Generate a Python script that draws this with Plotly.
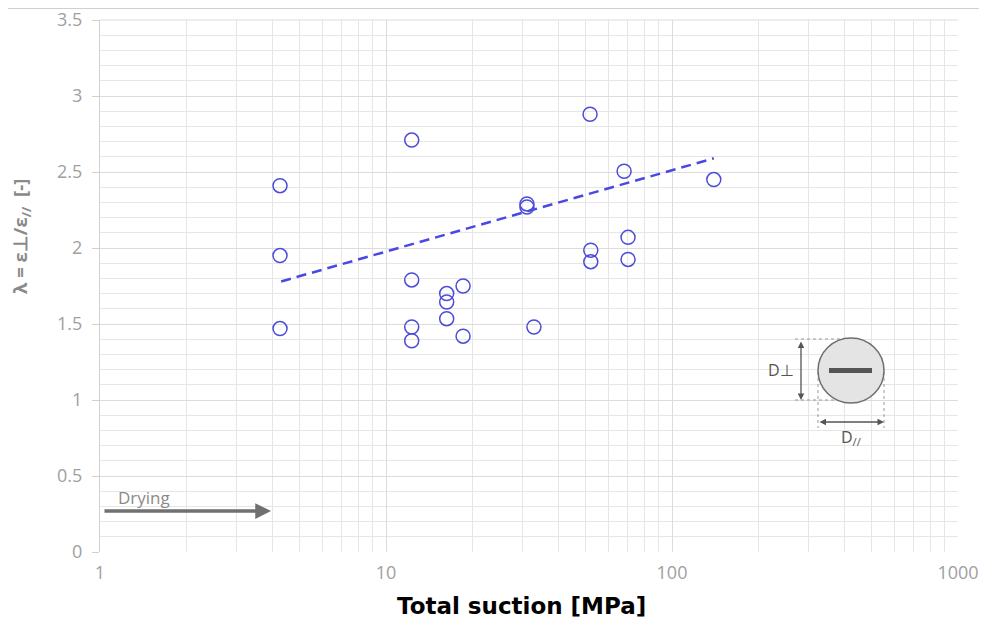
import plotly.graph_objects as go

# Data
suction = [4.26, 4.26, 4.26, 12.3, 12.3, 12.3, 12.3, 16.3, 16.3, 16.3, 18.6, 18.6,
           31.1, 31.1, 32.9, 51.7, 52.0, 52.0, 68.0, 70.2, 70.2, 140.0]
lam = [2.41, 1.95, 1.47, 2.71, 1.79, 1.48, 1.39, 1.70, 1.645, 1.535, 1.75, 1.42,
       2.29, 2.27, 1.48, 2.88, 1.985, 1.91, 2.505, 2.07, 1.925, 2.45]

trend_x = [4.3, 140.0]
trend_y = [1.78, 2.59]

y_ticks = [0, 0.5, 1, 1.5, 2, 2.5, 3, 3.5]
y_tick_labels = ["0", "0.5", "1", "1.5", "2", "2.5", "3", "3.5"]
x_ticks = [1, 10, 100, 1000]
x_tick_labels = ["1", "10", "100", "1000"]

# page has an 8px body margin; figure geometry compensates for it
W, H = 979, 614
L, R, T, B = 92, 29, 12, 70
PW, PH = W - L - R, H - T - B
PAGE_L, PAGE_B = 100, 552  # plot-area left / bottom in page pixels


def px(xp):
    return (xp - PAGE_L) / PW


def py(yp):
    return (PAGE_B - yp) / PH


fig = go.Figure()

fig.add_trace(go.Scatter(
    x=trend_x, y=trend_y, mode="lines",
    line=dict(color="#4848e2", width=2.5, dash="10px,6px"),
    hoverinfo="skip", showlegend=False))

fig.add_trace(go.Scatter(
    x=suction, y=lam, mode="markers",
    marker=dict(symbol="circle-open", size=14, color="#4c4cd8",
                line=dict(width=1.5, color="#4c4cd8")),
    showlegend=False))

grid = "#dcdcdc"
tickfont = dict(family="Open Sans", size=18, color="#a0a0a0")
fig.update_xaxes(
    type="log", range=[0, 3], automargin=False,
    tickvals=x_ticks, ticktext=x_tick_labels,
    showgrid=True, gridcolor=grid, gridwidth=1,
    minor=dict(showgrid=True, gridcolor="#e6e6e6", dtick="D1", ticks=""),
    zeroline=False, showline=False, ticks="", ticklabelstandoff=8,
    ticklabeloverflow="allow",
    tickfont=tickfont,
)
fig.update_yaxes(
    range=[0, 3.5], automargin=False,
    tickvals=y_ticks, ticktext=y_tick_labels,
    showgrid=True, gridcolor=grid, gridwidth=1,
    minor=dict(showgrid=True, gridcolor="#e6e6e6", dtick=0.1, ticks=""),
    zeroline=False, showline=True, linecolor="#d0d0d0", linewidth=1,
    ticks="outside", ticklen=7, tickcolor="#d0d0d0", ticklabelstandoff=6,
    ticklabeloverflow="allow",
    tickfont=tickfont,
)

shapes = []
# top frame line
shapes.append(dict(type="line", xref="paper", yref="paper",
                   x0=px(0), x1=px(995), y0=1 + (T - 0.5) / PH, y1=1 + (T - 0.5) / PH,
                   line=dict(color="#d0d0d0", width=1)))
# top border of plot area (3.5 gridline)
shapes.append(dict(type="line", xref="paper", yref="paper",
                   x0=0, x1=1, y0=1, y1=1,
                   line=dict(color=grid, width=1), layer="below"))
# white box behind "Drying"
shapes.append(dict(type="rect", xref="paper", yref="paper",
                   x0=px(101), x1=px(215), y0=py(516), y1=py(480),
                   fillcolor="white", line=dict(width=0), layer="below"))
# inset: dashed guide lines
for (x0, y0, x1, y1) in [(795, 339, 850, 339), (795, 400, 850, 400),
                         (818, 372, 818, 428), (884, 372, 884, 428)]:
    shapes.append(dict(type="line", xref="paper", yref="paper",
                       x0=px(x0), x1=px(x1), y0=py(y0), y1=py(y1),
                       line=dict(color="#9a9a9a", width=1, dash="dot")))
# inset circle
shapes.append(dict(type="circle", xref="paper", yref="paper",
                   x0=px(818), x1=px(884), y0=py(403), y1=py(338),
                   fillcolor="#e4e4e4", line=dict(color="#6e6e6e", width=1.5)))
# inset bar
shapes.append(dict(type="rect", xref="paper", yref="paper",
                   x0=px(829), x1=px(872), y0=py(373), y1=py(368),
                   fillcolor="#555555", line=dict(width=0)))

annotations = []
# axis titles
annotations.append(dict(xref="paper", yref="paper", x=px(521), y=py(606),
                        xanchor="center", yanchor="middle",
                        showarrow=False, text="<b>Total suction [MPa]</b>",
                        font=dict(family="DejaVu Sans", size=23, color="#000000")))
annotations.append(dict(xref="paper", yref="paper", x=px(21), y=py(237),
                        xanchor="center", yanchor="middle",
                        showarrow=False, textangle=-90,
                        text="<b>λ = ε⊥/ε<sub>//</sub>  [-]</b>",
                        font=dict(family="Open Sans", size=18.5, color="#8a8a8a")))
# Drying arrow
annotations.append(dict(xref="paper", yref="paper", x=px(271), y=py(511),
                        ax=-168, ay=0, axref="pixel", ayref="pixel",
                        showarrow=True, arrowhead=2, arrowsize=0.9,
                        arrowwidth=3.5, arrowcolor="#707070", text=""))
annotations.append(dict(xref="paper", yref="paper", x=px(116), y=py(497),
                        xanchor="left", yanchor="middle", showarrow=False,
                        text="Drying",
                        font=dict(family="Open Sans", size=17, color="#8a8a8a")))
# vertical double arrow
annotations.append(dict(xref="paper", yref="paper", x=px(801), y=py(400),
                        ax=0, ay=-60, axref="pixel", ayref="pixel",
                        showarrow=True, arrowhead=2, startarrowhead=2,
                        arrowside="end+start", arrowsize=1, arrowwidth=1.3,
                        arrowcolor="#555555", text=""))
# horizontal double arrow
annotations.append(dict(xref="paper", yref="paper", x=px(884), y=py(422),
                        ax=-66, ay=0, axref="pixel", ayref="pixel",
                        showarrow=True, arrowhead=2, startarrowhead=2,
                        arrowside="end+start", arrowsize=1, arrowwidth=1.3,
                        arrowcolor="#555555", text=""))
annotations.append(dict(xref="paper", yref="paper", x=px(781), y=py(370),
                        xanchor="center", yanchor="middle",
                        showarrow=False, text="D⊥",
                        font=dict(family="Open Sans", size=16, color="#555555")))
annotations.append(dict(xref="paper", yref="paper", x=px(851), y=py(437),
                        xanchor="center", yanchor="middle",
                        showarrow=False, text="D<sub>//</sub>",
                        font=dict(family="Open Sans", size=16, color="#555555")))

fig.update_layout(
    width=W, height=H,
    margin=dict(l=L, r=R, t=T, b=B),
    plot_bgcolor="white", paper_bgcolor="white",
    shapes=shapes, annotations=annotations,
    showlegend=False,
)

fig.write_html("out.html")
